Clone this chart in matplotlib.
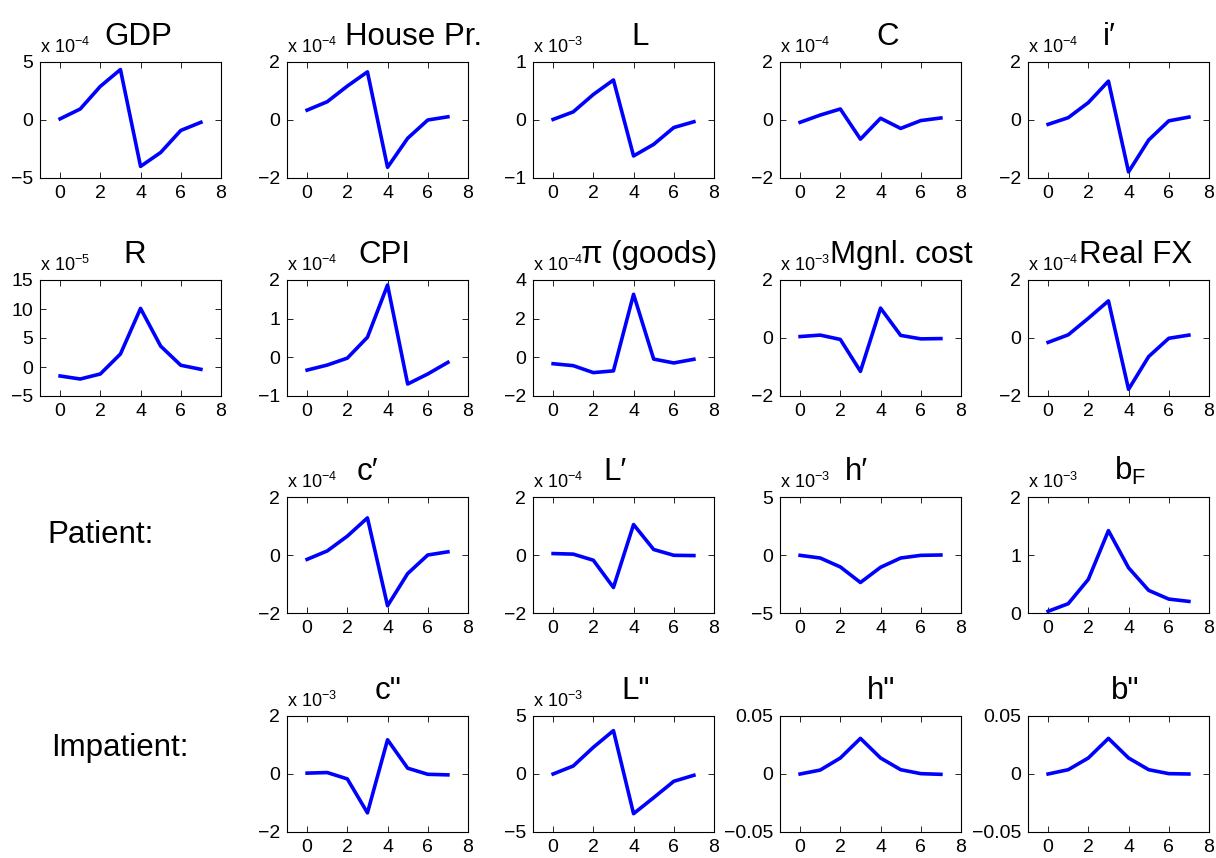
import matplotlib.pyplot as plt
import numpy as np

plt.rcParams['font.family'] = ['Liberation Sans', 'DejaVu Sans']
plt.rcParams['mathtext.fontset'] = 'custom'
plt.rcParams['mathtext.rm'] = 'Liberation Sans'
plt.rcParams['mathtext.it'] = 'Liberation Sans:italic'
plt.rcParams['mathtext.sf'] = 'Liberation Sans'

periods = np.arange(8)

# impulse responses (in units of the axis multiplier shown above each panel)
gdp = [0.1, 0.95, 2.9, 4.35, -4.0, -2.8, -0.9, -0.2]
house_pr = [0.34, 0.63, 1.17, 1.66, -1.63, -0.63, 0.0, 0.11]
labour = [0.01, 0.14, 0.44, 0.69, -0.62, -0.42, -0.13, -0.03]
cons = [-0.08, 0.17, 0.38, -0.66, 0.06, -0.29, -0.02, 0.07]
i_pat = [-0.15, 0.08, 0.6, 1.34, -1.79, -0.69, -0.03, 0.1]
rate = [-1.55, -2.07, -1.2, 2.24, 10.1, 3.6, 0.3, -0.4]
cpi = [-0.33, -0.2, -0.02, 0.52, 1.87, -0.69, -0.43, -0.13]
pi_goods = [-0.33, -0.43, -0.79, -0.7, 3.26, -0.09, -0.29, -0.1]
mgnl_cost = [0.05, 0.1, -0.05, -1.15, 1.03, 0.09, -0.03, -0.02]
real_fx = [-0.15, 0.11, 0.68, 1.28, -1.77, -0.64, -0.01, 0.1]
c_pat = [-0.15, 0.14, 0.65, 1.28, -1.75, -0.64, 0.0, 0.11]
l_pat = [0.05, 0.03, -0.18, -1.12, 1.05, 0.19, -0.01, -0.02]
h_pat = [-0.03, -0.26, -1.03, -2.37, -1.06, -0.26, -0.03, 0.0]
b_foreign = [0.03, 0.16, 0.58, 1.42, 0.78, 0.39, 0.24, 0.2]
c_imp = [0.03, 0.05, -0.17, -1.34, 1.18, 0.2, -0.01, -0.03]
l_imp = [0.0, 0.69, 2.3, 3.74, -3.42, -2.04, -0.63, -0.11]
h_imp = [0.0, 0.0034, 0.0138, 0.0307, 0.0138, 0.0037, 0.0003, -0.0003]
b_imp = [0.0, 0.0037, 0.0138, 0.0307, 0.0138, 0.0037, 0.0003, 0.0]

# (title, series, exponent, y ticks, row, col, title shift in px)
panels = [
    ('GDP', gdp, -4, [-5, 0, 5], 0, 0, 8),
    ('House Pr.', house_pr, -4, [-2, 0, 2], 0, 1, 36),
    ('L', labour, -3, [-1, 0, 1], 0, 2, 17),
    ('C', cons, -4, [-2, 0, 2], 0, 3, 17),
    ('i\u2032', i_pat, -4, [-2, 0, 2], 0, 4, -9),
    ('R', rate, -5, [-5, 0, 5, 10, 15], 1, 0, 4),
    ('CPI', cpi, -4, [-1, 0, 1, 2], 1, 1, 7),
    ('\u03c0 (goods)', pi_goods, -4, [-2, 0, 2, 4], 1, 2, 26),
    ('Mgnl. cost', mgnl_cost, -3, [-2, 0, 2], 1, 3, 31),
    ('Real FX', real_fx, -4, [-2, 0, 2], 1, 4, 17),
    ('c\u2032', c_pat, -4, [-2, 0, 2], 2, 1, -10),
    ('L\u2032', l_pat, -4, [-2, 0, 2], 2, 2, -8),
    ('h\u2032', h_pat, -3, [-5, 0, 5], 2, 3, -14),
    (r'b$_\mathrm{F}$', b_foreign, -3, [0, 1, 2], 2, 4, 12),
    ('c"', c_imp, -3, [-2, 0, 2], 3, 1, 11),
    ('L"', l_imp, -3, [-5, 0, 5], 3, 2, 12),
    ('h"', h_imp, None, [-0.05, 0, 0.05], 3, 3, 11),
    ('b"', b_imp, None, [-0.05, 0, 0.05], 3, 4, 7),
]

W, H = 1216, 858
col_left = [40, 287, 533, 780, 1028]
row_top = [62, 280, 497, 716]
aw, ah = 181, 116

fig = plt.figure(figsize=(W / 100, H / 100), dpi=100)


def tick_text(v):
    return ('%g' % v).replace('-', '\u2212')


for title, y, expo, yt, r, c, dx in panels:
    ax = fig.add_axes([col_left[c] / W, 1 - (row_top[r] + ah) / H, aw / W, ah / H])
    ax.plot(periods, y, color=(0, 0, 1), linewidth=2.6)
    ax.set_xlim(-1, 8)
    ax.set_xticks([0, 2, 4, 6, 8])
    ax.set_ylim(yt[0], yt[-1])
    ax.set_yticks(yt)
    ax.set_yticklabels([tick_text(v) for v in yt])
    ax.tick_params(direction='in', length=4, width=0.6, top=True, right=True,
                   labelsize=14, pad=5)
    for sp in ax.spines.values():
        sp.set_linewidth(0.8)
    ax.text(0.5 + dx / aw, 1 + 17 / ah, title, transform=ax.transAxes,
            ha='center', va='baseline', fontsize=22.5)
    if expo is not None:
        ax.text(0, 1 + 9 / ah, r'x 10$^{%d}$' % expo, transform=ax.transAxes,
                ha='left', va='baseline', fontsize=13)

fig.text(47 / W, 1 - 543 / H, 'Patient:', ha='left', va='baseline', fontsize=22.5)
fig.text(51 / W, 1 - 756 / H, 'Impatient:', ha='left', va='baseline', fontsize=22.5)

plt.savefig('out.png', dpi=100)
